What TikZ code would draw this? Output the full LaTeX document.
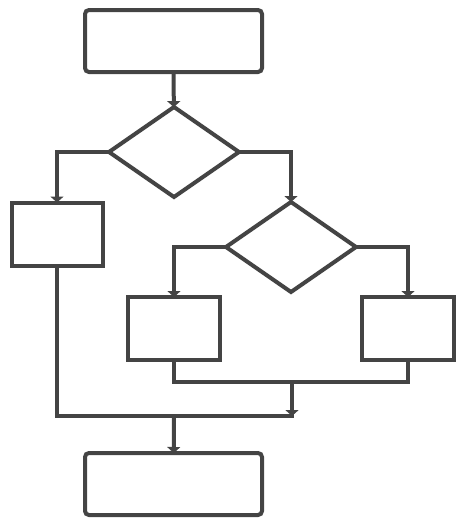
\documentclass[tikz,border=0pt]{standalone}
\usetikzlibrary{shapes.geometric,arrows.meta}
\definecolor{ink}{HTML}{444444}
\begin{document}
\begin{tikzpicture}[x=1pt,y=1pt,
  color=ink, line width=4pt,
  procbox/.style={draw=ink,line width=4pt,rectangle,inner sep=0pt,outer sep=0pt},
  decbox/.style={draw=ink,line width=4pt,diamond,inner sep=0pt,outer sep=0pt,minimum width=130pt,minimum height=90pt},
  arr/.style={-{Triangle[width=13pt,length=6pt]}},
  ]
\useasboundingbox (0,0) rectangle (466,-528);
\node[procbox,rounded corners=4pt,minimum width=177pt,minimum height=62pt] (top) at (173.5,-41) {};
\node[decbox] (d1) at (174,-152) {};
\node[procbox,minimum width=91pt,minimum height=63pt] (lbox) at (57,-234) {};
\node[decbox] (d2) at (291,-247) {};
\node[procbox,minimum width=92pt,minimum height=63pt] (mbox) at (174,-328.5) {};
\node[procbox,minimum width=92pt,minimum height=63pt] (rbox) at (408,-328.5) {};
\node[procbox,rounded corners=4pt,minimum width=177pt,minimum height=62pt] (bot) at (173.5,-484) {};
\coordinate (c1) at (292,-382);
\coordinate (c2) at (292,-416);
\coordinate (c3) at (174,-416);
\draw[arr] (top) -- (d1);
\draw[arr] (d1.west) -| (lbox.north);
\draw[arr] (d1.east) -| (d2.north);
\draw[arr] (d2.west) -| (mbox.north);
\draw[arr] (d2.east) -| (rbox.north);
\draw (mbox.south) |- (c1) -| (rbox.south);
\draw[arr] (c1) -- (c2);
\draw (lbox.south) |- ([xshift=2pt]c2);
\draw[arr] (c3) -- (bot);
\end{tikzpicture}
\end{document}
